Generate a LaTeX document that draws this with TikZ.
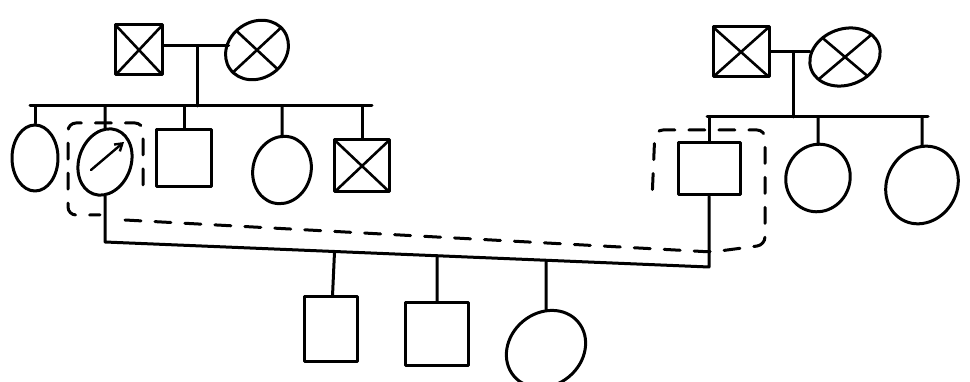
\documentclass[tikz,border=0pt]{standalone}
\usepackage{tikz}
\usetikzlibrary{positioning, shapes.geometric, arrows.meta}

\begin{document}
\begin{tikzpicture}[
        x=1pt, y=-1pt, line width=3pt, line cap=round, line join=round,
        male/.style={rectangle, draw, inner sep=0pt},
        female/.style={ellipse, draw, inner sep=0pt},
        dead/.style={path picture={
            \draw[line width=2.6pt] (path picture bounding box.north west) -- (path picture bounding box.south east)
                (path picture bounding box.north east) -- (path picture bounding box.south west);}},
        cluster/.style={dash pattern=on 16pt off 14pt, rounded corners=8pt},
    ]
        \useasboundingbox (0,0) rectangle (970,382);

        % left grandparents
        \node[male, dead, minimum width=47pt, minimum height=50pt] (gfL) at (139,50) {};
        \node[female, dead, minimum width=66pt, minimum height=56pt, rotate=35] (gmL) at (257,50) {};
        \coordinate (mL) at (197,46);
        \coordinate (sibL1) at (30,106);
        \coordinate (sibL2) at (372,106);

        % left sibship
        \node[female, minimum width=46pt, minimum height=66pt] (a1) at (35,158) {};
        \node[female, minimum width=52pt, minimum height=68pt, rotate=-20] (a2) at (105,162) {};
        \node[male, minimum width=55pt, minimum height=57pt] (a3) at (184,158) {};
        \node[female, minimum width=58pt, minimum height=68pt, rotate=-15] (a4) at (282,170) {};
        \node[male, dead, minimum width=55pt, minimum height=52pt] (a5) at (362,166) {};

        % right grandparents
        \node[male, dead, minimum width=56pt, minimum height=50pt] (gfR) at (741,52) {};
        \node[female, dead, minimum width=72pt, minimum height=56pt, rotate=20] (gmR) at (845,57) {};
        \coordinate (mR) at (793,52);
        \coordinate (sibR1) at (707,117);
        \coordinate (sibR2) at (928,117);

        % right sibship
        \node[male, minimum width=62pt, minimum height=52pt] (b1) at (709,169) {};
        \node[female, minimum width=64pt, minimum height=68pt, rotate=-20] (b2) at (818,178) {};
        \node[female, minimum width=70pt, minimum height=80pt, rotate=-30] (b3) at (922,185) {};

        % couple and children
        \coordinate (cpL) at (a2 |- 0,242);
        \coordinate (cpR) at (b1 |- 0,267);
        \path (cpL) -- (cpR) coordinate[pos=0.38] (d1) coordinate[pos=0.55] (d2) coordinate[pos=0.735] (d3);
        \node[male, minimum width=53pt, minimum height=65pt] (c1) at (331,329) {};
        \node[male, minimum width=63pt, minimum height=63pt] (c2) at (437,334) {};
        \node[female, minimum width=84pt, minimum height=72pt, rotate=40] (c3) at (546,349) {};

        \draw (gfL.east |- mL) -- (gmL.west |- mL);
        \draw (mL) -- (mL |- sibL1);
        \draw (sibL1) -- (sibL2);
        \foreach \kid in {a1, a2, a3, a4, a5}
            \draw (\kid |- sibL1) -- (\kid);

        \draw (gfR.east |- mR) -- (gmR.west |- mR);
        \draw (mR) -- (mR |- sibR1);
        \draw (sibR1) -- (sibR2);
        \foreach \kid in {b1, b2, b3}
            \draw (\kid |- sibR1) -- (\kid);

        \draw (a2) -- (cpL) -- (cpR) -- (b1);
        \draw (d1) -- (c1);
        \draw (d2) -- (c2);
        \draw (d3 -| c3) -- (c3);

        % proband arrow
        \draw[-{Straight Barb[length=7pt, width=9pt]}, line width=2.4pt] (91,170) -- (124,142);

        % dashed outline
        \draw[cluster] (143,185) -- (143,123) -- (68,123) -- (68,215) -- (100,215);
        \draw[cluster] (125,220) -- (712,252) -- (765,245) -- (765,130) -- (655,130) -- (652,200);
    \end{tikzpicture}
\end{document}
